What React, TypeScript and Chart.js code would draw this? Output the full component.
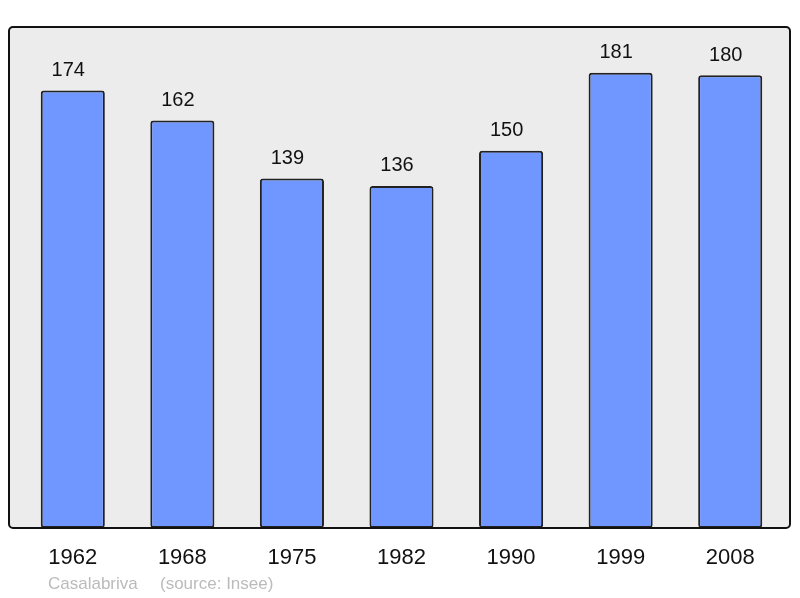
import React, { useEffect, useRef } from "react";
import { Chart, registerables } from "chart.js";

Chart.register(...registerables);

const years = ["1962", "1968", "1975", "1982", "1990", "1999", "2008"];
const population = [174, 162, 139, 136, 150, 181, 180];
const placeName = "Casalabriva";
const sourceText = "(source: Insee)";

const FONT = "'Liberation Sans', Arial, sans-serif";

const boxPlugin = {
  id: "boxPlugin",
  beforeDraw(chart: any) {
    const { ctx, chartArea } = chart;
    const l = chartArea.left - 9;
    const t = chartArea.top + 2;
    const r = chartArea.right + 5;
    const b = chartArea.bottom;
    ctx.save();
    ctx.beginPath();
    ctx.roundRect(l, t, r - l, b - t, 4);
    ctx.fillStyle = "#ececec";
    ctx.fill();
    ctx.restore();
  },
  afterDatasetsDraw(chart: any) {
    const { ctx, chartArea } = chart;
    const l = chartArea.left - 9;
    const t = chartArea.top + 2;
    const r = chartArea.right + 5;
    const b = chartArea.bottom;
    ctx.save();
    ctx.beginPath();
    ctx.roundRect(l, t, r - l, b - t, 4);
    ctx.lineWidth = 2;
    ctx.strokeStyle = "#111";
    ctx.stroke();
    // value labels
    const meta = chart.getDatasetMeta(0);
    ctx.fillStyle = "#111";
    ctx.font = `20px ${FONT}`;
    ctx.textAlign = "center";
    ctx.textBaseline = "middle";
    meta.data.forEach((bar: any, i: number) => {
      ctx.fillText(String(population[i]), bar.x - 4.5, bar.y - 20);
    });
    // footnote
    ctx.fillStyle = "#bbbbbb";
    ctx.font = `17px ${FONT}`;
    ctx.textAlign = "left";
    ctx.fillText(placeName, 48, 584);
    ctx.fillText(sourceText, 160, 584);
    ctx.restore();
  },
};

export default function App() {
  const ref = useRef<HTMLCanvasElement>(null);
  useEffect(() => {
    if (!ref.current) return;
    const chart = new Chart(ref.current, {
      type: "bar",
      data: {
        labels: years,
        datasets: [
          {
            data: population,
            backgroundColor: "#7096ff",
            borderColor: "#222",
            borderWidth: 2,
            borderRadius: 3,
            borderSkipped: false,
            categoryPercentage: 1,
            barPercentage: 0.585,
          },
        ],
      },
      options: {
        responsive: false,
        animation: false,
        layout: { padding: { top: 25, left: 18, right: 15, bottom: 0 } },
        plugins: { legend: { display: false }, tooltip: { enabled: false } },
        scales: {
          x: {
            grid: { display: false, drawTicks: false },
            border: { display: false },
            ticks: { color: "#111", font: { size: 22, family: FONT }, padding: 17 },
            afterFit(scale: any) {
              scale.height = 70;
            },
          },
          y: { display: false, min: 0, max: 200 },
        },
      },
      plugins: [boxPlugin],
    });
    return () => chart.destroy();
  }, []);
  return (
    <div style={{ position: "fixed", left: 0, top: 0, width: 800, height: 598, background: "#fff" }}>
      <canvas ref={ref} width={800} height={598} />
    </div>
  );
}
